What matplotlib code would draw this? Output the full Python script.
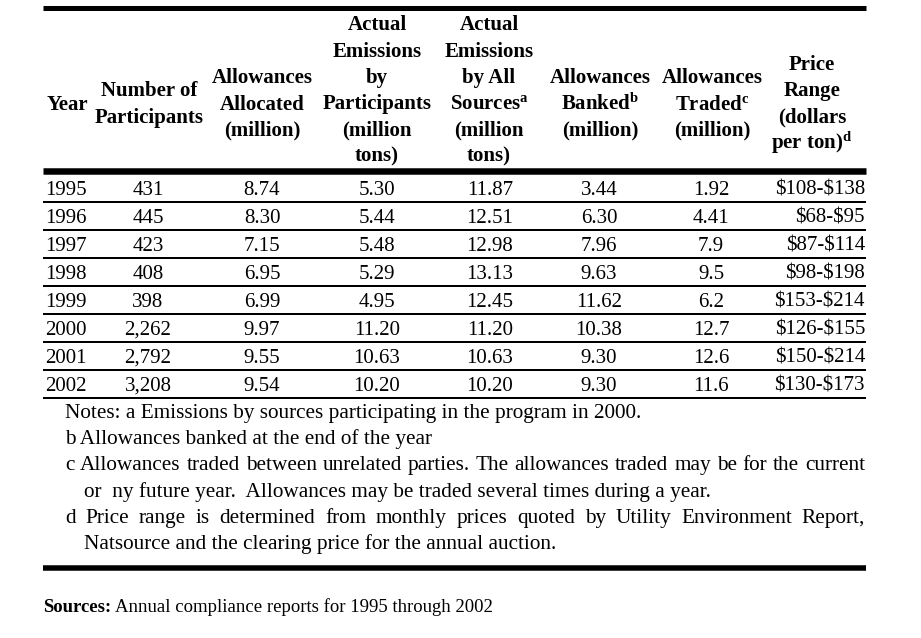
import matplotlib
matplotlib.use("Agg")
import matplotlib.pyplot as plt

plt.rcParams['font.family'] = ['Liberation Serif', 'DejaVu Serif']
plt.rcParams['mathtext.fontset'] = 'custom'
plt.rcParams['mathtext.rm'] = 'Liberation Serif'
plt.rcParams['mathtext.bf'] = 'Liberation Serif:bold'
plt.rcParams['mathtext.it'] = 'Liberation Serif:italic'

# Table data
years = [1995, 1996, 1997, 1998, 1999, 2000, 2001, 2002]
participants = [431, 445, 423, 408, 398, 2262, 2792, 3208]
allocated = [8.74, 8.30, 7.15, 6.95, 6.99, 9.97, 9.55, 9.54]
emis_participants = [5.30, 5.44, 5.48, 5.29, 4.95, 11.20, 10.63, 10.20]
emis_all = [11.87, 12.51, 12.98, 13.13, 12.45, 11.20, 10.63, 10.20]
banked = [3.44, 6.30, 7.96, 9.63, 11.62, 10.38, 9.30, 9.30]
traded = ['1.92', '4.41', '7.9', '9.5', '6.2', '12.7', '12.6', '11.6']
price_low = [108, 68, 87, 98, 153, 126, 150, 130]
price_high = [138, 95, 114, 198, 214, 155, 214, 173]

headers = [
    ['Year'],
    ['Number of', 'Participants'],
    ['Allowances', 'Allocated', '(million)'],
    ['Actual', 'Emissions', 'by', 'Participants', '(million', 'tons)'],
    ['Actual', 'Emissions', 'by All', r'Sources$^{\mathbf{a}}$', '(million', 'tons)'],
    ['Allowances', r'Banked$^{\mathbf{b}}$', '(million)'],
    ['Allowances', r'Traded$^{\mathbf{c}}$', '(million)'],
    ['Price', 'Range', '(dollars', r'per ton)$^{\mathbf{d}}$'],
]

notes = [
    ('Notes: a Emissions by sources participating in the program in 2000.', 65, False),
    ('b Allowances banked at the end of the year', 65, False),
    ('c Allowances traded between unrelated parties.  The allowances traded may be for the current', 65, True),
    ('or  ny future year.  Allowances may be traded several times during a year.', 84, False),
    ('d Price range is determined from monthly prices quoted by Utility Environment Report,', 65, True),
    ('Natsource and the clearing price for the annual auction.', 84, False),
]
source_text = 'Annual compliance reports for 1995 through 2002'

# layout (pixels)
W, H = 921, 638
X0, X1 = 43, 866
head_x = [47, 149, 262, 377, 489, 600, 712, 812]
data_x = [45, 148, 262, 377, 490, 599, 711, 865]
data_ha = ['left', 'center', 'center', 'center', 'center', 'center', 'center', 'right']
FS = 15
NOTE_FS = 15.3


def hrule(ax, y, px):
    ax.plot([X0, X1], [y, y], color='black', lw=px * 0.72, solid_capstyle='butt')


def justify(ax, line, x0, x1, y, **kw):
    r = ax.figure.canvas.get_renderer()
    words = line.split()
    arts = [ax.text(0, y, w, **kw) for w in words]
    widths = [a.get_window_extent(r).width for a in arts]
    gap = (x1 - x0 - sum(widths)) / (len(words) - 1)
    x = x0
    for a, w in zip(arts, widths):
        a.set_x(x)
        x += w + gap


def main():
    fig = plt.figure(figsize=(W / 100, H / 100), dpi=100)
    ax = fig.add_axes([0, 0, 1, 1])
    ax.set_xlim(0, W)
    ax.set_ylim(H, 0)
    ax.axis('off')

    # rules
    hrule(ax, 7.5, 5)
    hrule(ax, 170.5, 6.5)
    hrule(ax, 568, 5.5)

    # header
    pitch = 26.2
    for j, lines in enumerate(headers):
        n = len(lines)
        center = min(102, 154 - (n - 1) * pitch / 2)
        for i, s in enumerate(lines):
            yc = center - (n - 1) * pitch / 2 + i * pitch
            ax.text(head_x[j], yc + 7.5, s, fontsize=FS, fontweight='bold',
                    ha='left' if j == 0 else 'center', va='baseline')

    # body
    for i in range(len(years)):
        row = [str(years[i]), f'{participants[i]:,}', f'{allocated[i]:.2f}',
               f'{emis_participants[i]:.2f}', f'{emis_all[i]:.2f}',
               f'{banked[i]:.2f}', traded[i],
               rf'\${price_low[i]}-\${price_high[i]}']
        yb = 195 + 28 * i
        for j, s in enumerate(row):
            ax.text(data_x[j], yb, s, fontsize=FS, ha=data_ha[j], va='baseline')
        hrule(ax, 202 + 27.95 * i, 2)

    # notes
    for k, (s, x, just) in enumerate(notes):
        yb = 418 + 26.2 * k
        if just:
            justify(ax, s, x, 865, yb, fontsize=NOTE_FS, va='baseline')
        else:
            ax.text(x, yb, s, fontsize=NOTE_FS, va='baseline')

    t = ax.text(43, 612, 'Sources:', fontsize=13.5, fontweight='bold', va='baseline')
    r = fig.canvas.get_renderer()
    w = t.get_window_extent(r).width
    ax.text(43 + w + 4, 612, source_text, fontsize=13.5, va='baseline')

    fig.savefig('out.png', dpi=100)
    plt.close(fig)


if __name__ == "__main__":
    main()
